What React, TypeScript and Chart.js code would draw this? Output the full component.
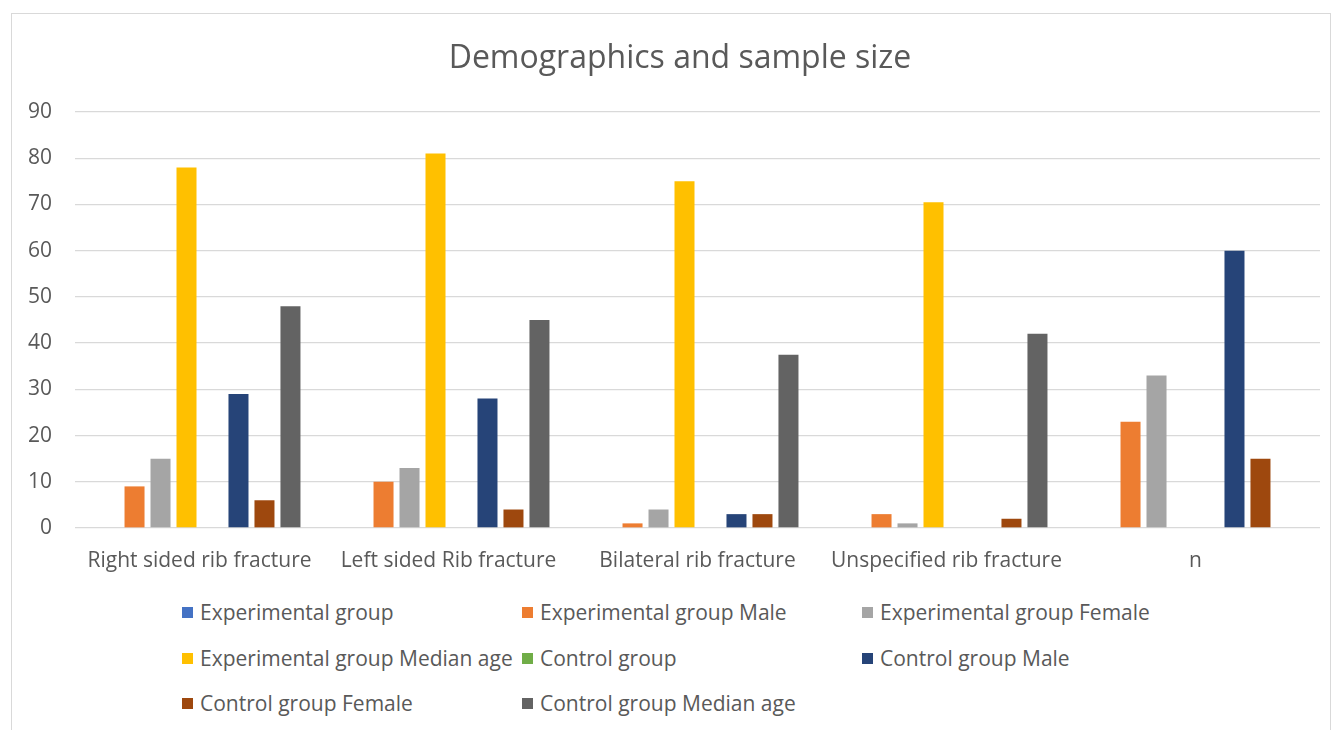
import React, { useEffect, useRef } from "react";
import { Chart, registerables } from "chart.js";

Chart.register(...registerables);

const categories = [
  "Right sided rib fracture",
  "Left sided Rib fracture",
  "Bilateral rib fracture",
  "Unspecified rib fracture",
  "n",
];

const seriesNames = [
  "Experimental group",
  "Experimental group Male",
  "Experimental group Female",
  "Experimental group Median age",
  "Control group",
  "Control group Male",
  "Control group Female",
  "Control group Median age",
];

const experimentalGroup = [0, 0, 0, 0, 0];
const experimentalMale = [9, 10, 1, 3, 23];
const experimentalFemale = [15, 13, 4, 1, 33];
const experimentalMedianAge = [78, 81, 75, 70.5, 0];
const controlGroup = [0, 0, 0, 0, 0];
const controlMale = [29, 28, 3, 0, 60];
const controlFemale = [6, 4, 3, 2, 15];
const controlMedianAge = [48, 45, 37.5, 42, 0];

const seriesValues = [
  experimentalGroup,
  experimentalMale,
  experimentalFemale,
  experimentalMedianAge,
  controlGroup,
  controlMale,
  controlFemale,
  controlMedianAge,
];

const colors = [
  "#4472C4",
  "#ED7D31",
  "#A5A5A5",
  "#FFC000",
  "#70AD47",
  "#264478",
  "#9E480E",
  "#636363",
];

const yTicks = [0, 10, 20, 30, 40, 50, 60, 70, 80, 90];

const titleText = "Demographics and sample size";

const FONT = "'Open Sans', 'Noto Sans', sans-serif";
const TEXT = "#595959";

const titlePlugin = {
  id: "centeredTitle",
  afterDraw(chart: any) {
    const ctx = chart.ctx;
    ctx.save();
    ctx.font = `normal 32px ${FONT}`;
    ctx.fillStyle = TEXT;
    ctx.textAlign = "center";
    ctx.textBaseline = "middle";
    ctx.fillText(titleText, 680, 59);
    ctx.restore();
  },
};

export default function App() {
  const ref = useRef<HTMLCanvasElement | null>(null);

  useEffect(() => {
    if (!ref.current) return;
    const chart = new Chart(ref.current, {
      type: "bar",
      data: {
        labels: categories,
        datasets: seriesNames.map((name, i) => ({
          label: name,
          data: seriesValues[i],
          backgroundColor: colors[i],
          borderWidth: 0,
          categoryPercentage: 0.835,
          barPercentage: 0.77,
        })),
      },
      plugins: [titlePlugin],
      options: {
        animation: false,
        responsive: false,
        maintainAspectRatio: false,
        layout: { padding: { left: 0, right: 17, top: 112, bottom: 0 } },
        plugins: {
          legend: { display: false },
          tooltip: { enabled: false },
          title: { display: false },
        },
        scales: {
          x: {
            grid: { display: false, drawTicks: false },
            border: { display: false },
            ticks: {
              color: TEXT,
              font: { family: FONT, size: 21 },
              padding: 20,
              maxRotation: 0,
              autoSkip: false,
            },
            afterFit: (scale: any) => {
              scale.height = 62;
            },
          },
          y: {
            min: 0,
            max: 90,
            afterBuildTicks: (scale: any) => {
              scale.ticks = yTicks.map((v) => ({ value: v }));
            },
            grid: { color: "#d9d9d9", lineWidth: 1.3, drawTicks: false },
            border: { display: false },
            ticks: {
              color: TEXT,
              font: { family: FONT, size: 21 },
              padding: 23,
            },
            afterFit: (scale: any) => {
              scale.width = 75;
            },
          },
        },
      },
    });
    return () => chart.destroy();
  }, []);

  const legendCols = [182, 522, 862];
  const legendRows = [612, 658, 703];

  return (
    <div
      style={{
        position: "fixed",
        left: 0,
        top: 0,
        width: 1337,
        height: 730,
        background: "#fff",
        overflow: "hidden",
      }}
    >
      <div
        style={{
          position: "absolute",
          left: 11,
          top: 13,
          width: 1318,
          height: 760,
          border: "1px solid #d9d9d9",
        }}
      />
      <canvas
        ref={ref}
        width={1337}
        height={590}
        style={{ position: "absolute", left: 0, top: 0, width: 1337, height: 590 }}
      />
      {seriesNames.map((name, i) => {
        const col = i % 3;
        const row = Math.floor(i / 3);
        return (
          <div
            key={name}
            style={{
              position: "absolute",
              left: legendCols[col],
              top: legendRows[row] - 15,
              height: 30,
              display: "flex",
              alignItems: "center",
              fontFamily: FONT,
              fontSize: 21,
              color: TEXT,
              whiteSpace: "nowrap",
            }}
          >
            <span
              style={{
                display: "inline-block",
                width: 11,
                height: 11,
                background: colors[i],
                marginRight: 7,
              }}
            />
            <span>{name}</span>
          </div>
        );
      })}
    </div>
  );
}
